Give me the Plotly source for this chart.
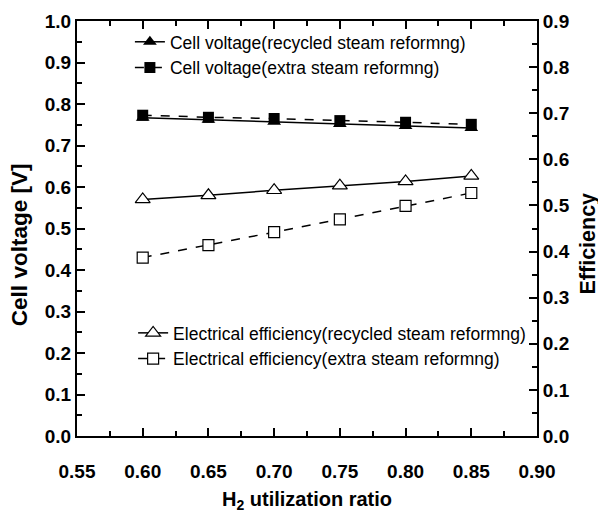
import plotly.graph_objects as go

h2_ratio = [0.60, 0.65, 0.70, 0.75, 0.80, 0.85]
voltage_recycled = [0.767, 0.762, 0.757, 0.752, 0.747, 0.742]
voltage_extra = [0.773, 0.768, 0.765, 0.760, 0.756, 0.751]
eff_recycled = [0.513, 0.522, 0.533, 0.543, 0.552, 0.564]
eff_extra = [0.387, 0.414, 0.442, 0.470, 0.499, 0.527]

FONT = "Liberation Sans, Arial, sans-serif"
BLACK = "#000000"

fig = go.Figure()
fig.add_trace(go.Scatter(
    x=h2_ratio, y=voltage_recycled, mode="lines+markers",
    name="Cell voltage(recycled steam reformng)",
    line=dict(color=BLACK, width=1.5),
    marker=dict(symbol="triangle-up", size=12, color=BLACK),
    legend="legend"))
fig.add_trace(go.Scatter(
    x=h2_ratio, y=voltage_extra, mode="lines+markers",
    name="Cell voltage(extra steam reformng)",
    line=dict(color=BLACK, width=1.5, dash="dash"),
    marker=dict(symbol="square", size=11, color=BLACK),
    legend="legend"))
fig.add_trace(go.Scatter(
    x=h2_ratio, y=eff_recycled, mode="lines+markers",
    name="Electrical efficiency(recycled steam reformng)",
    line=dict(color=BLACK, width=1.5),
    marker=dict(symbol="triangle-up", size=13, color="white",
                line=dict(color=BLACK, width=1.2)),
    yaxis="y2", legend="legend2"))
fig.add_trace(go.Scatter(
    x=h2_ratio, y=eff_extra, mode="lines+markers",
    name="Electrical efficiency(extra steam reformng)",
    line=dict(color=BLACK, width=1.5, dash="dash"),
    marker=dict(symbol="square", size=11, color="white",
                line=dict(color=BLACK, width=1.2)),
    yaxis="y2", legend="legend2"))

tick_font = dict(family=FONT, size=19, color=BLACK, weight="bold")
axis_common = dict(
    showline=True, linecolor=BLACK, linewidth=2, ticks="inside", ticklen=8,
    tickwidth=2, tickcolor=BLACK, showgrid=False, zeroline=False,
    tickfont=tick_font, automargin=False,
)
minor_common = dict(ticks="inside", ticklen=5, tickwidth=2, tickcolor=BLACK)

fig.update_layout(
    width=598, height=505,
    margin=dict(l=69, r=69, t=13, b=77, autoexpand=False),
    paper_bgcolor="white", plot_bgcolor="white",
    font=dict(family=FONT, color=BLACK),
    xaxis=dict(range=[0.55, 0.90], dtick=0.05, tick0=0.55, tickformat=".2f",
               mirror="ticks", ticklabelstandoff=17,
               minor=dict(dtick=0.025, **minor_common),
               **axis_common),
    yaxis=dict(range=[0, 1.0], dtick=0.1, tickformat=".1f",
               minor=dict(dtick=0.05, **minor_common),
               **axis_common),
    yaxis2=dict(range=[0, 0.9], dtick=0.1, tickformat=".1f", overlaying="y", side="right",
                minor=dict(dtick=0.05, **minor_common),
                **axis_common),
    legend=dict(x=0.115, y=0.993, xanchor="left", yanchor="top",
                bgcolor="rgba(0,0,0,0)", font=dict(family=FONT, size=17.5, color=BLACK),
                tracegroupgap=0, itemwidth=30),
    legend2=dict(x=0.122, y=0.2916, xanchor="left", yanchor="top",
                 bgcolor="rgba(0,0,0,0)", font=dict(family=FONT, size=17.5, color=BLACK),
                 tracegroupgap=0, itemwidth=30),
    annotations=[
        dict(text="H<sub>2</sub> utilization ratio", xref="paper", yref="paper",
             x=0.5, y=-0.155, xanchor="center", yanchor="middle", showarrow=False,
             font=dict(family=FONT, size=20, color=BLACK, weight="bold")),
        dict(text="Cell voltage [V]", xref="paper", yref="paper",
             x=-0.126, y=0.46, xanchor="center", yanchor="middle", showarrow=False,
             textangle=-90,
             font=dict(family=FONT, size=22.5, color=BLACK, weight="bold")),
        dict(text="Efficiency", xref="paper", yref="paper",
             x=1.111, y=0.464, xanchor="center", yanchor="middle", showarrow=False,
             textangle=-90,
             font=dict(family=FONT, size=21.5, color=BLACK, weight="bold")),
    ],
)

fig.write_html("out.html")
